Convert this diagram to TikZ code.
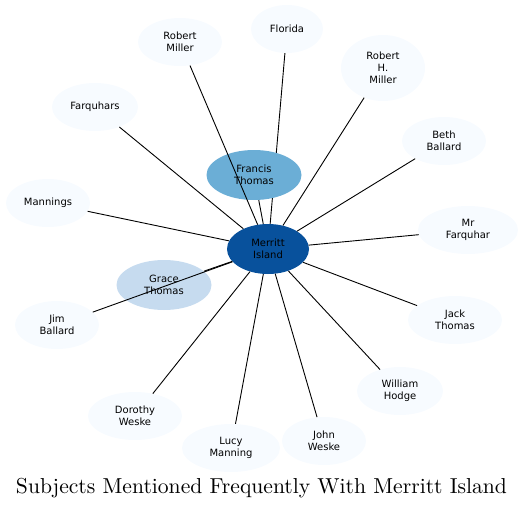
\documentclass[tikz,border=0pt]{standalone}
\usepackage{fontspec}
\newfontfamily\nodefont{DejaVu Sans}
\usetikzlibrary{shapes.geometric}
\pgfdeclarelayer{background}
\pgfsetlayers{background,main}
\definecolor{pale}{HTML}{F7FBFF}
\definecolor{mid}{HTML}{6BAED6}
\definecolor{light}{HTML}{C6DBEF}
\definecolor{dark}{HTML}{08519C}
\tikzset{
  ent/.style={ellipse, fill=pale, draw=none, minimum width=84pt, minimum height=48pt, inner sep=0pt, align=center, font=\nodefont\fontsize{10}{12}\selectfont},
  link/.style={draw=black, line width=0.9pt},
}
\begin{document}
\begin{tikzpicture}[x=1pt,y=-1pt]
\useasboundingbox (0,0) rectangle (525,509);
\node[ent, fill=dark, minimum width=82pt, minimum height=50pt] (m) at (268,249) {Merritt\\Island};
\node[ent, fill=mid, minimum width=95pt, minimum height=50pt] (ft) at (254,175) {Francis\\Thomas};
\node[ent, fill=light, minimum width=95pt, minimum height=50pt] (gt) at (164,285) {Grace\\Thomas};
\node[ent] (rm) at (180,42) {Robert\\Miller};
\node[ent, minimum width=72pt] (fl) at (287,29) {Florida};
\node[ent, minimum height=66pt] (rhm) at (383,68) {Robert\\H.\\Miller};
\node[ent, minimum width=86pt] (fq) at (95,107) {Farquhars};
\node[ent] (bb) at (444,141) {Beth\\Ballard};
\node[ent] (mn) at (48,203) {Mannings};
\node[ent, minimum width=100pt] (mf) at (468,230) {Mr\\Farquhar};
\node[ent] (jb) at (57,325) {Jim\\Ballard};
\node[ent, minimum width=94pt] (jt) at (455,320) {Jack\\Thomas};
\node[ent, minimum width=86pt] (wh) at (400,391) {William\\Hodge};
\node[ent, minimum width=94pt] (dw) at (135,416) {Dorothy\\Weske};
\node[ent, minimum width=98pt] (lm) at (231,448) {Lucy\\Manning};
\node[ent] (jw) at (324,441) {John\\Weske};
\begin{pgfonlayer}{background}
\draw[link] (m) -- (fl);
\end{pgfonlayer}
\draw[link] (m) -- (ft);
\draw[link] (m) -- (gt);
\draw[link] (m) -- (rm);
\draw[link] (m) -- (rhm);
\draw[link] (m) -- (fq);
\draw[link] (m) -- (bb);
\draw[link] (m) -- (mn);
\draw[link] (m) -- (mf);
\draw[link] (m) -- (jb);
\draw[link] (m) -- (jt);
\draw[link] (m) -- (wh);
\draw[link] (m) -- (dw);
\draw[link] (m) -- (lm);
\draw[link] (m) -- (jw);
\node[inner sep=0pt] (title) at (261.5,488) {\resizebox{491pt}{!}{\fontsize{10}{12}\selectfont Subjects Mentioned Frequently With Merritt Island}};
\end{tikzpicture}
\end{document}
